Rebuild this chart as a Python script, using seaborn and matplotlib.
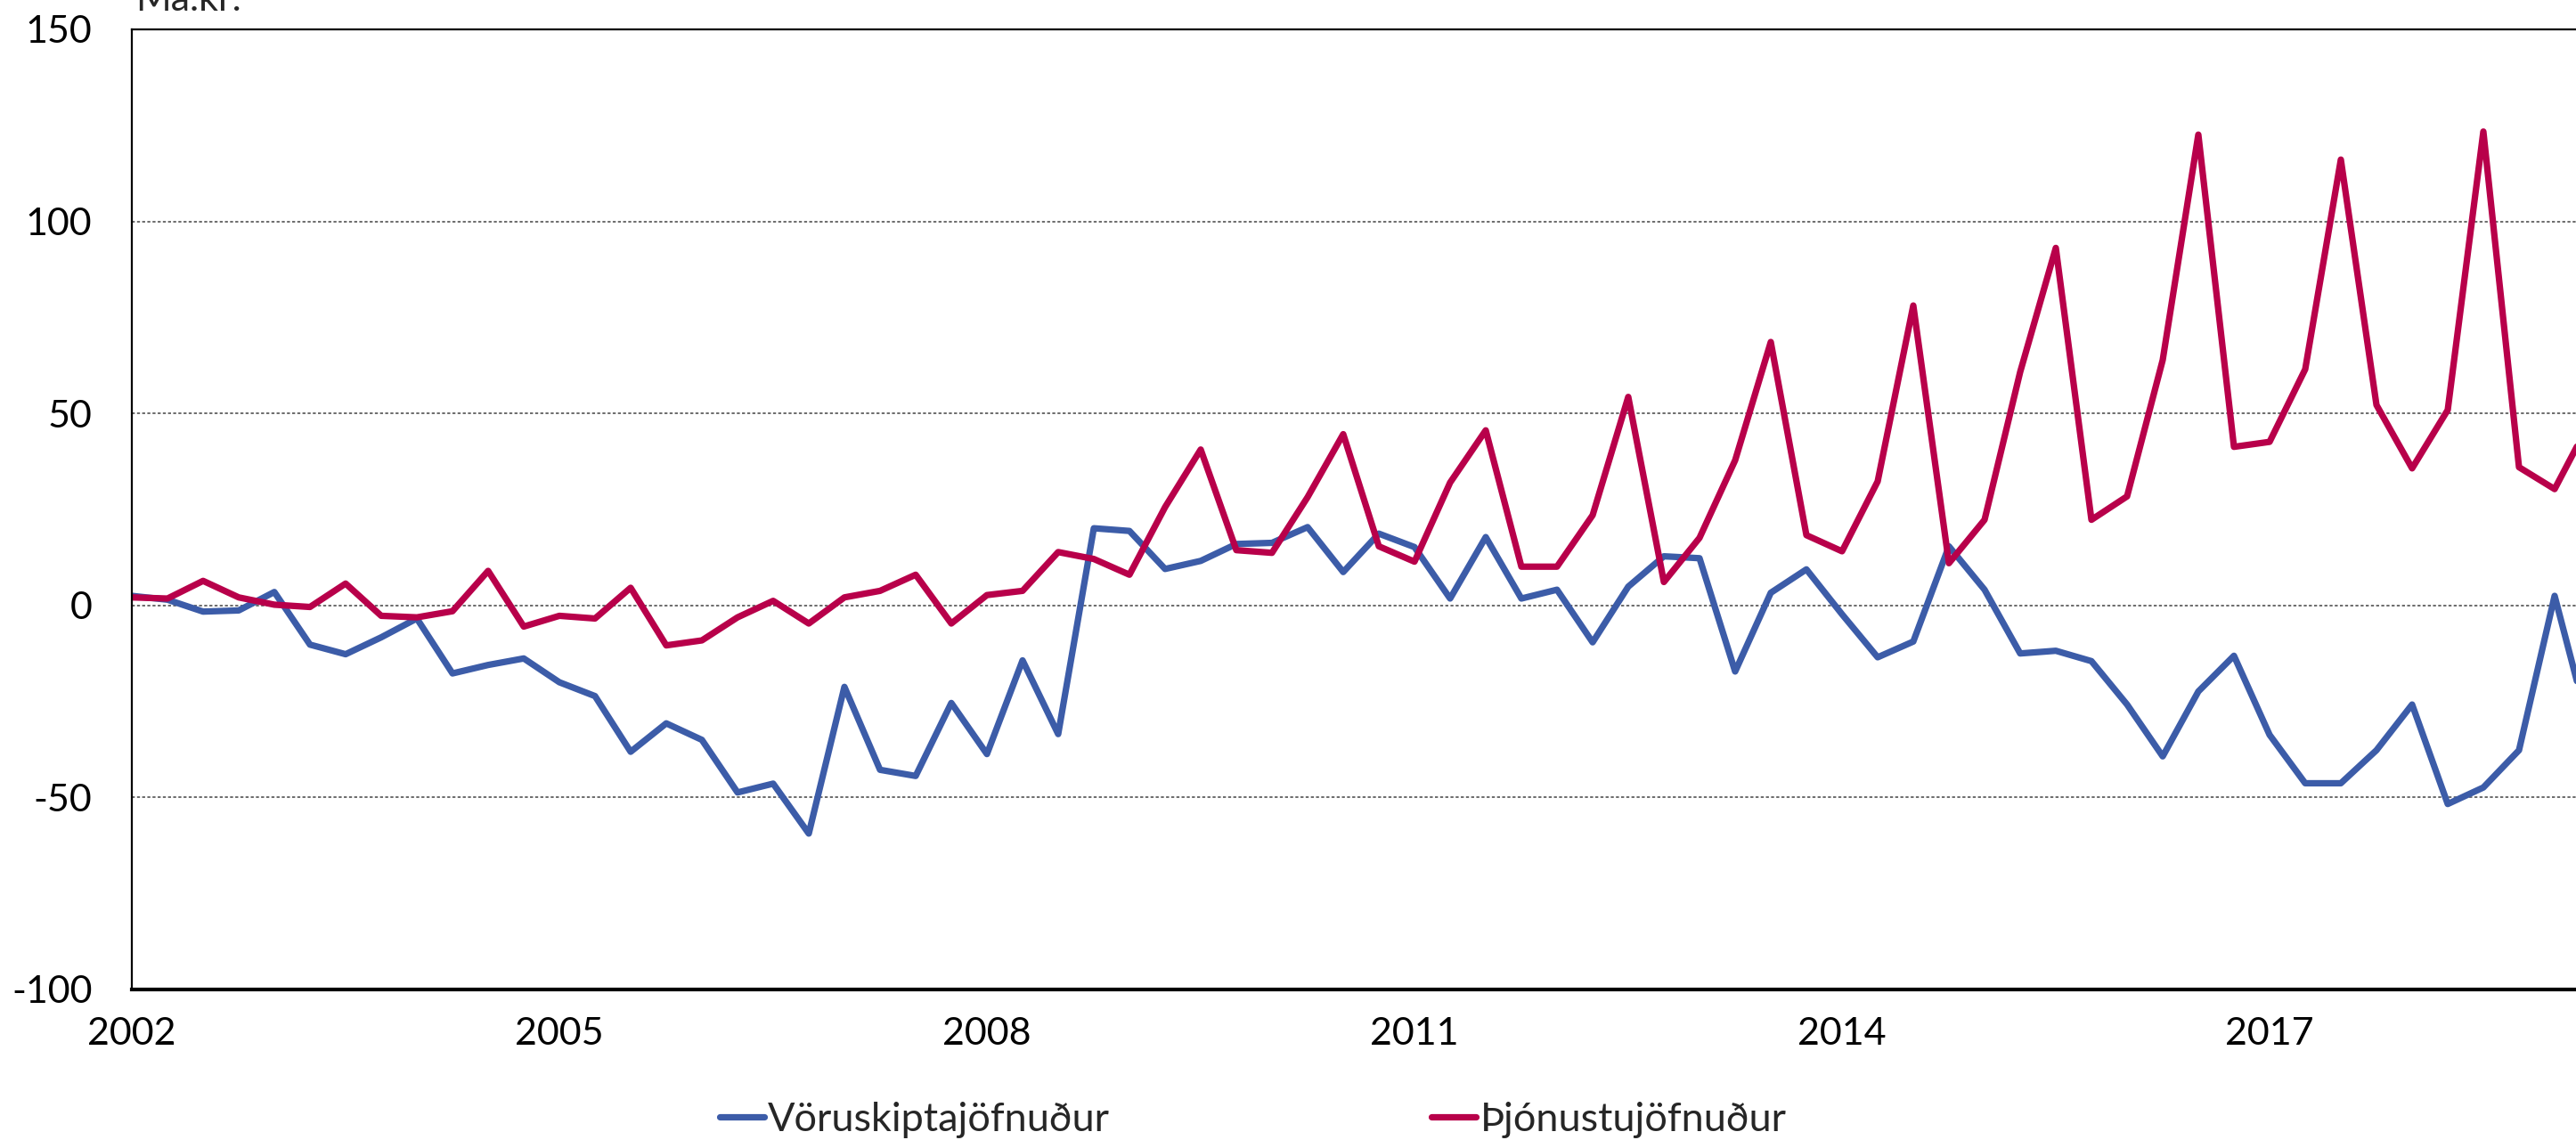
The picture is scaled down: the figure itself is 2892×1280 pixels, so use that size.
import numpy as np
import pandas as pd
import matplotlib
matplotlib.use("Agg")
import matplotlib.pyplot as plt
import seaborn as sns

# quarterly balances, bn ISK, 2002Q1 - 2019Q2
quarters = pd.period_range("2002Q1", "2019Q2", freq="Q")

voruskipti = [2.5, 1.5, -1.6, -1.3, 3.5, -10.2, -12.7, -8.3, -3.4, -17.7,
              -15.5, -13.8, -20.0, -23.6, -38.1, -30.7, -35.0, -48.7, -46.4, -59.4,
              -21.2, -42.8, -44.4, -25.4, -38.7, -14.3, -33.5, 20.1, 19.4, 9.5,
              11.6, 16.0, 16.3, 20.4, 8.7, 18.7, 15.2, 1.8, 17.8, 1.8,
              4.1, -9.6, 4.9, 12.8, 12.3, -17.2, 3.3, 9.4, -2.3, -13.5,
              -9.4, 15.4, 4.1, -12.5, -11.8, -14.5, -25.8, -39.3, -22.4, -13.1,
              -33.7, -46.3, -46.3, -37.7, -25.8, -51.7, -47.4, -37.7, 2.5, -33.0]

thjonusta = [2.1, 1.8, 6.4, 2.1, 0.2, -0.4, 5.7, -2.7, -3.1, -1.5,
             9.0, -5.5, -2.7, -3.4, 4.6, -10.4, -9.1, -3.1, 1.2, -4.7,
             2.1, 3.8, 8.0, -4.7, 2.7, 3.8, 13.9, 12.1, 8.0, 25.6,
             40.6, 14.4, 13.7, 28.2, 44.6, 15.4, 11.4, 32.0, 45.6, 10.1,
             10.1, 23.5, 54.3, 6.1, 17.6, 37.8, 68.6, 18.3, 14.1, 32.3,
             78.1, 11.0, 22.3, 60.8, 93.1, 22.3, 28.4, 63.9, 122.6, 41.3,
             42.6, 61.5, 116.1, 52.2, 35.7, 50.9, 123.4, 36.0, 30.3, 48.0]

series_names = ["Vöruskiptajöfnuður", "Þjónustujöfnuður"]
colors = ["#3C5CA8", "#B8004A"]
year_ticks = [2002, 2005, 2008, 2011, 2014, 2017]
y_ticks = [-100, -50, 0, 50, 100, 150]

t = np.array([q.year + (q.quarter - 1) / 4 for q in quarters])
df = pd.DataFrame({
    "t": np.concatenate([t, t]),
    "value": voruskipti + thjonusta,
    "series": [series_names[0]] * len(t) + [series_names[1]] * len(t),
})

sns.set_style("white")
plt.rcParams["font.family"] = ["Lato", "DejaVu Sans"]
plt.rcParams["axes.unicode_minus"] = False

W, H = 2892, 1280
fig = plt.figure(figsize=(W / 100, H / 100), dpi=100)
ax = fig.add_axes([148 / W, 1 - 1111 / H, 1 - 148 / W, (1111 - 33) / H])

sns.lineplot(data=df, x="t", y="value", hue="series", hue_order=series_names,
             palette=colors, linewidth=5.2, ax=ax, legend=False)

ax.set_xlim(2002, 2002 + (W - 148) / 160.0)
ax.set_ylim(-100, 150)
ax.set_yticks(y_ticks)
ax.set_xticks(year_ticks)
ax.set_xticklabels([str(y) for y in year_ticks])
ax.set_xlabel("")
ax.set_ylabel("")

ax.yaxis.grid(True, color="#444444", linestyle=(0, (2.2, 1.6)), linewidth=1.1)
ax.xaxis.grid(False)

ax.tick_params(axis="y", length=0, pad=32, labelsize=31, colors="black")
ax.tick_params(axis="x", direction="out", length=12, width=1.3, pad=10,
               labelsize=31, colors="black")

for side in ["left", "top"]:
    ax.spines[side].set_color("black")
    ax.spines[side].set_linewidth(1.6)
ax.spines["bottom"].set_color("black")
ax.spines["bottom"].set_linewidth(3.0)
ax.spines["right"].set_visible(False)

# unit label, partly cut off by the top edge as in the original
fig.text(152 / W, 1 - 12 / H, "Ma.kr.", fontsize=31, va="baseline", ha="left")

handles = [plt.Line2D([], [], color=c, linewidth=5.2) for c in colors]
fig.legend(handles, series_names, loc="center left",
           bbox_to_anchor=(808 / W, 1 - 1257 / H), frameon=False, ncol=2,
           fontsize=32.5, handlelength=1.1, handletextpad=0.1,
           columnspacing=8.0, borderaxespad=0, borderpad=0)

fig.savefig("out.png", dpi=100)
